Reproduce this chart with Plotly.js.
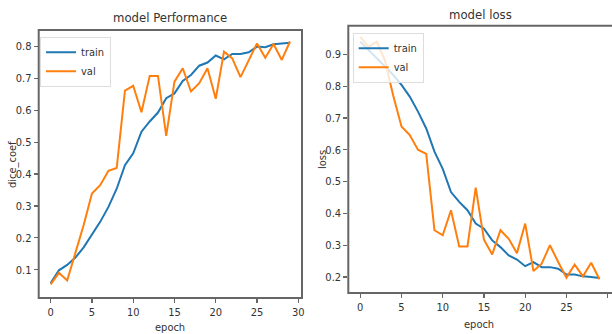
<!DOCTYPE html>
<html>
<head>
<meta charset="utf-8">
<script src="https://cdn.plot.ly/plotly-3.0.1.min.js"></script>
<style>html,body{margin:0;padding:0;background:#fff;}#chart{width:612px;height:334px;}</style>
</head>
<body>
<div id="chart"></div>
<script>
const epochs = Array.from({length: 30}, (_, i) => i);
const trainDice = [0.058,0.098,0.115,0.138,0.17,0.208,0.25,0.297,0.354,0.428,0.465,0.533,0.565,0.593,0.638,0.653,0.692,0.711,0.740,0.750,0.772,0.760,0.777,0.777,0.782,0.800,0.798,0.807,0.809,0.812];
const valDice = [0.054,0.09,0.066,0.15,0.24,0.339,0.365,0.41,0.419,0.662,0.677,0.594,0.708,0.708,0.52,0.69,0.732,0.659,0.685,0.732,0.636,0.784,0.763,0.704,0.758,0.81,0.765,0.808,0.758,0.816];
const trainLoss = [0.94,0.915,0.89,0.862,0.835,0.804,0.767,0.72,0.667,0.594,0.54,0.467,0.436,0.41,0.368,0.352,0.315,0.294,0.268,0.255,0.234,0.247,0.231,0.231,0.226,0.208,0.208,0.202,0.2,0.197];
const valLoss = [0.955,0.924,0.94,0.88,0.77,0.673,0.646,0.6,0.587,0.347,0.331,0.41,0.296,0.296,0.481,0.317,0.271,0.347,0.32,0.275,0.368,0.219,0.242,0.3,0.247,0.198,0.239,0.202,0.245,0.193];
const xTicks = [0,5,10,15,20,25,30];
const diceTicks = [0.1,0.2,0.3,0.4,0.5,0.6,0.7,0.8];
const lossTicks = [0.2,0.3,0.4,0.5,0.6,0.7,0.8,0.9];

const FONT = '"DejaVu Sans Condensed", "Liberation Sans Narrow", "DejaVu Sans", sans-serif';
const BLUE = '#1f77b4', ORANGE = '#ff7f0e';
const W = 612, H = 334;
const SPINE = '#666666';

const traces = [
  {x: epochs, y: trainDice, name: 'train', type: 'scatter', mode: 'lines', line: {color: BLUE, width: 2}, xaxis: 'x', yaxis: 'y', legend: 'legend'},
  {x: epochs, y: valDice, name: 'val', type: 'scatter', mode: 'lines', line: {color: ORANGE, width: 2}, xaxis: 'x', yaxis: 'y', legend: 'legend'},
  {x: epochs, y: trainLoss, name: 'train', type: 'scatter', mode: 'lines', line: {color: BLUE, width: 2}, xaxis: 'x2', yaxis: 'y2', legend: 'legend2'},
  {x: epochs, y: valLoss, name: 'val', type: 'scatter', mode: 'lines', line: {color: ORANGE, width: 2}, xaxis: 'x2', yaxis: 'y2', legend: 'legend2'}
];

function ax(extra) {
  return Object.assign({
    showgrid: false, zeroline: false, showline: false,
    ticks: 'outside', ticklen: 4, tickwidth: 1.2, tickcolor: SPINE,
    tickfont: {family: FONT, size: 11, color: '#333'}, tickmode: 'array'
  }, extra);
}

const legendStyle = {
  bgcolor: 'rgba(255,255,255,0.8)', bordercolor: '#ddd', borderwidth: 1,
  font: {family: FONT, size: 11, color: '#333'}, itemwidth: 30, tracegroupgap: 0,
  xanchor: 'left', yanchor: 'top', itemclick: false
};

function txt(text, x, y, size, angle) {
  return {text: text, x: x/W, y: 1-y/H, xref: 'paper', yref: 'paper', showarrow: false,
          xanchor: 'center', yanchor: 'middle', textangle: angle || 0,
          font: {family: FONT, size: size, color: '#333'}};
}

const layout = {
  width: W, height: H,
  margin: {l: 0, r: 0, t: 0, b: 0},
  paper_bgcolor: '#fff', plot_bgcolor: '#fff',
  showlegend: true,
  xaxis: ax({domain: [38.7/W, 302/W], range: [-1.45, 30.45], tickvals: xTicks, anchor: 'y'}),
  yaxis: ax({domain: [1-298/H, 1-30/H], range: [0.0111, 0.852], tickvals: diceTicks, anchor: 'x'}),
  xaxis2: ax({domain: [348.3/W, 0.999], range: [-1.45, 30.45], tickvals: xTicks, anchor: 'y2'}),
  yaxis2: ax({domain: [1-293/H, 1-25.7/H], range: [0.1497, 0.990], tickvals: lossTicks, anchor: 'x2'}),
  legend: Object.assign({x: 40/W, y: 1-36.7/H}, legendStyle),
  legend2: Object.assign({x: 352.7/W, y: 1-32.7/H}, legendStyle),
  shapes: [
    {type: 'rect', xref: 'paper', yref: 'paper', x0: 38.7/W, x1: 302/W, y0: 1-298/H, y1: 1-30/H, line: {color: SPINE, width: 2}, fillcolor: 'rgba(0,0,0,0)', layer: 'above'},
    {type: 'rect', xref: 'paper', yref: 'paper', x0: 348.3/W, x1: 613/W, y0: 1-293/H, y1: 1-25.7/H, line: {color: SPINE, width: 2}, fillcolor: 'rgba(0,0,0,0)', layer: 'above'}
  ],
  annotations: [
    txt('model Performance', 170, 18, 13),
    txt('model loss', 480, 15, 13),
    txt('epoch', 170, 327, 11),
    txt('epoch', 479, 324, 11),
    txt('dice_coef', 12, 165, 11, -90),
    txt('loss', 322, 160, 11, -90)
  ]
};

Plotly.newPlot('chart', traces, layout, {displayModeBar: false, staticPlot: true});
</script>
</body>
</html>
